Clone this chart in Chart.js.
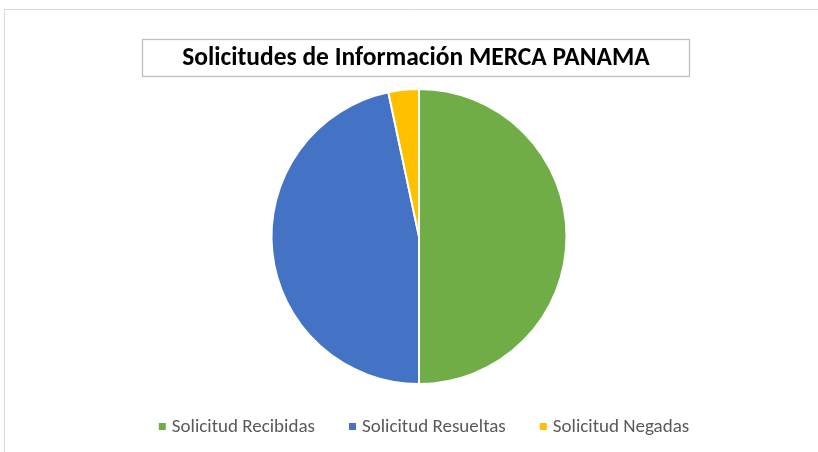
<!DOCTYPE html>
<html lang="es">
<head>
    <meta charset="UTF-8">
    <title>Solicitudes de Información MERCA PANAMA</title>
    <script src="https://cdn.jsdelivr.net/npm/chart.js"></script>
    <style>
        html, body { margin: 0; padding: 0; background: #fff; }
        #wrap { width: 818px; height: 452px; position: relative; }
    </style>
</head>
<body>
    <div id="wrap">
        <canvas id="grafico"></canvas>
    </div>

    <script>
        // Datos
        const titulo = 'Solicitudes de Información MERCA PANAMA';
        const categorias = ['Solicitud Recibidas', 'Solicitud Resueltas', 'Solicitud Negadas'];
        const valores = [30, 28, 2];
        const colores = ['#70AD47', '#4472C4', '#FFC000'];

        const fuente = 'Calibri, Carlito, Lato, sans-serif';

        // marco, caja del título y leyenda
        const decoracion = {
            id: 'decoracion',
            beforeDraw(chart) {
                const ctx = chart.ctx;
                ctx.save();
                ctx.fillStyle = '#fff';
                ctx.fillRect(0, 0, chart.width, chart.height);
                ctx.strokeStyle = '#d9d9d9';
                ctx.lineWidth = 1;
                ctx.beginPath();
                ctx.moveTo(4.5, chart.height);
                ctx.lineTo(4.5, 9.5);
                ctx.lineTo(chart.width, 9.5);
                ctx.stroke();
                ctx.restore();
            },
            afterDraw(chart) {
                const ctx = chart.ctx;
                ctx.save();
                // caja del título
                ctx.strokeStyle = '#bfbfbf';
                ctx.lineWidth = 1.3;
                ctx.strokeRect(142.5, 39.5, 547, 37);
                ctx.fillStyle = '#000';
                ctx.font = 'bold 25.5px ' + fuente;
                ctx.textAlign = 'center';
                ctx.textBaseline = 'middle';
                ctx.fillText(titulo, 416, 59);

                // leyenda
                ctx.font = '19px ' + fuente;
                ctx.textAlign = 'left';
                const ds = chart.data.datasets[0];
                const anchos = chart.data.labels.map(l => ctx.measureText(l).width);
                const total = anchos.reduce((a, w) => a + w + 13, 0) + 34 * (anchos.length - 1);
                let x = 424 - total / 2;
                chart.data.labels.forEach((l, i) => {
                    ctx.fillStyle = ds.backgroundColor[i];
                    ctx.fillRect(x, 423, 7, 7);
                    ctx.fillStyle = '#595959';
                    ctx.fillText(l, x + 13, 427);
                    x += anchos[i] + 13 + 34;
                });
                ctx.restore();
            }
        };

        const ctx = document.getElementById('grafico').getContext('2d');
        new Chart(ctx, {
            type: 'pie',
            data: {
                labels: categorias,
                datasets: [{
                    data: valores,
                    backgroundColor: colores,
                    borderColor: '#fff',
                    borderWidth: 2
                }]
            },
            options: {
                responsive: true,
                maintainAspectRatio: false,
                animation: false,
                layout: { padding: { top: 88, bottom: 67, left: 20, right: 0 } },
                plugins: {
                    legend: { display: false },
                    title: { display: false },
                    tooltip: { enabled: false }
                }
            },
            plugins: [decoracion]
        });
    </script>
</body>
</html>
